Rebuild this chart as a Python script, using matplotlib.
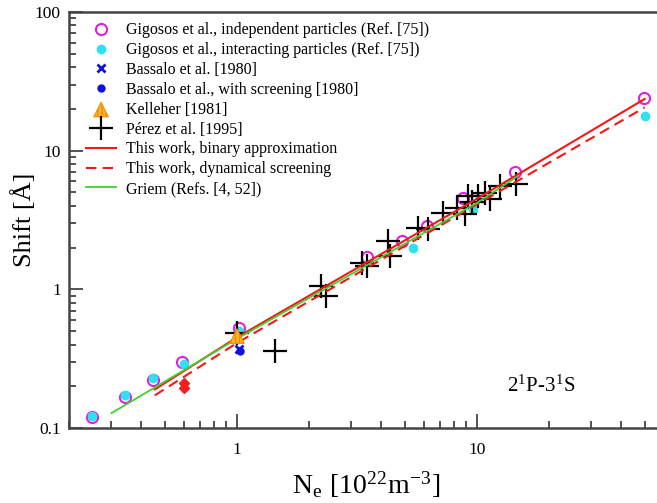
import matplotlib.pyplot as plt
from matplotlib.ticker import LogLocator, FuncFormatter, NullFormatter

plt.rcParams.update({"font.family": ["Liberation Serif", "DejaVu Serif"],
                     "mathtext.fontset": "stix", "hatch.color": "#d98a00"})

# Gigosos et al., independent particles
gig_ind_ne = [0.25, 0.34, 0.447, 0.59, 1.02, 3.47, 4.86, 6.17, 8.77, 14.4, 49.7]
gig_ind_shift = [0.12, 0.168, 0.222, 0.30, 0.53, 1.72, 2.23, 2.87, 4.59, 6.96, 23.8]

# Gigosos et al., interacting particles
gig_int_ne = [0.25, 0.34, 0.447, 0.60, 1.02, 5.43, 9.66, 50.0]
gig_int_shift = [0.122, 0.172, 0.228, 0.29, 0.50, 1.98, 3.78, 17.8]

bassalo_ne = [1.02]
bassalo_shift = [0.37]
bassalo_scr_ne = [1.03]
bassalo_scr_shift = [0.36]

kelleher_ne = [1.0]
kelleher_shift = [0.46]

perez_ne = [1.0, 1.44, 2.25, 2.36, 3.31, 3.47, 4.27, 4.34, 5.7, 6.27,
            7.25, 8.23, 8.91, 9.2, 9.5, 10.1, 10.8, 11.3, 12.5, 14.6]
perez_shift = [0.487, 0.359, 1.05, 0.89, 1.56, 1.47, 2.23, 1.74, 2.79, 2.71,
               3.58, 3.89, 3.47, 4.72, 4.23, 4.72, 4.99, 4.47, 5.57, 5.73]

extra_ne = [0.6, 0.6]
extra_shift = [0.212, 0.195]

binary_ne = [0.455, 1.0, 10.0, 50.0]
binary_shift = [0.19, 0.45, 4.5, 23.6]
dyn_ne = [0.455, 1.0, 10.0, 50.0]
dyn_shift = [0.172, 0.41, 4.1, 20.5]
griem_ne = [0.30, 1.0, 10.0, 14.7]
griem_shift = [0.128, 0.44, 4.2, 6.5]

fig = plt.figure(figsize=(6.57, 5.03), dpi=100)
ax = fig.add_axes([69.2 / 657, 75 / 503, 594.5 / 657, 416 / 503])

ax.plot(gig_ind_ne, gig_ind_shift, "o", ms=8, mfc="none", mec="#e020e0", mew=1.5,
        label="Gigosos et al., independent particles (Ref. [75])")
ax.plot(gig_int_ne, gig_int_shift, "o", ms=6, color="#30e0f0",
        label="Gigosos et al., interacting particles (Ref. [75])")
ax.plot(bassalo_ne, bassalo_shift, "x", ms=6, mew=2, color="#1010e0",
        label="Bassalo et al. [1980]")
ax.plot(bassalo_scr_ne, bassalo_scr_shift, "o", ms=5, color="#1010e0",
        label="Bassalo et al., with screening [1980]")
ax.scatter(kelleher_ne, kelleher_shift, marker="^", s=110, facecolor="#ffb030",
           edgecolor="#f09000", hatch="||||", lw=0.8, label="Kelleher [1981]", zorder=3)
ax.plot(perez_ne, perez_shift, "+", ms=17, mew=1.6, color="black",
        label="Pérez et al. [1995]")
ax.plot(extra_ne, extra_shift, "D", ms=5, color="#ee2020")
ax.plot(binary_ne, binary_shift, "-", lw=1.5, color="#f01818",
        label="This work, binary approximation")
ax.plot(dyn_ne, dyn_shift, "--", lw=1.5, color="#f01818", dashes=(5, 3),
        label="This work, dynamical screening")
ax.plot(griem_ne, griem_shift, "-", lw=1.3, color="#40d030",
        label="Griem (Refs. [4, 52])")

ax.set_xscale("log")
ax.set_yscale("log")
ax.set_xlim(0.2, 60)
ax.set_ylim(0.1, 100)

plain = FuncFormatter(lambda v, _: f"{v:g}")
ax.xaxis.set_major_formatter(plain)
ax.yaxis.set_major_formatter(plain)
ax.xaxis.set_minor_locator(LogLocator(subs=range(2, 10)))
ax.yaxis.set_minor_locator(LogLocator(subs=range(2, 10)))
ax.xaxis.set_minor_formatter(NullFormatter())
ax.yaxis.set_minor_formatter(NullFormatter())
ax.tick_params(which="both", direction="in", labelsize=12.5, color="#444444", width=1.3)
ax.tick_params(which="major", length=10, pad=6)
ax.tick_params(which="minor", length=5)
ax.tick_params(axis="x", which="major", pad=10)
for s in ax.spines.values():
    s.set_color("#444444")
    s.set_linewidth(1.8)

ax.set_xlabel(r"N$_\mathregular{e}$ [10$^\mathregular{22}$m$^\mathregular{-3}$]", fontsize=20)
ax.set_ylabel("Shift [Å]", fontsize=19)
ax.xaxis.set_label_coords(0.5, -0.098)
ax.yaxis.set_label_coords(-0.056, 0.5)

ax.text(0.737, 0.1, r"2$^\mathregular{1}$P-3$^\mathregular{1}$S", transform=ax.transAxes,
        fontsize=15, ha="left", va="center")

ax.legend(loc="upper left", frameon=False, fontsize=11.5, handlelength=1.9,
          handletextpad=0.6, labelspacing=0.24, borderaxespad=0.2,
          bbox_to_anchor=(0.012, 0.998))

fig.savefig("out.png")
